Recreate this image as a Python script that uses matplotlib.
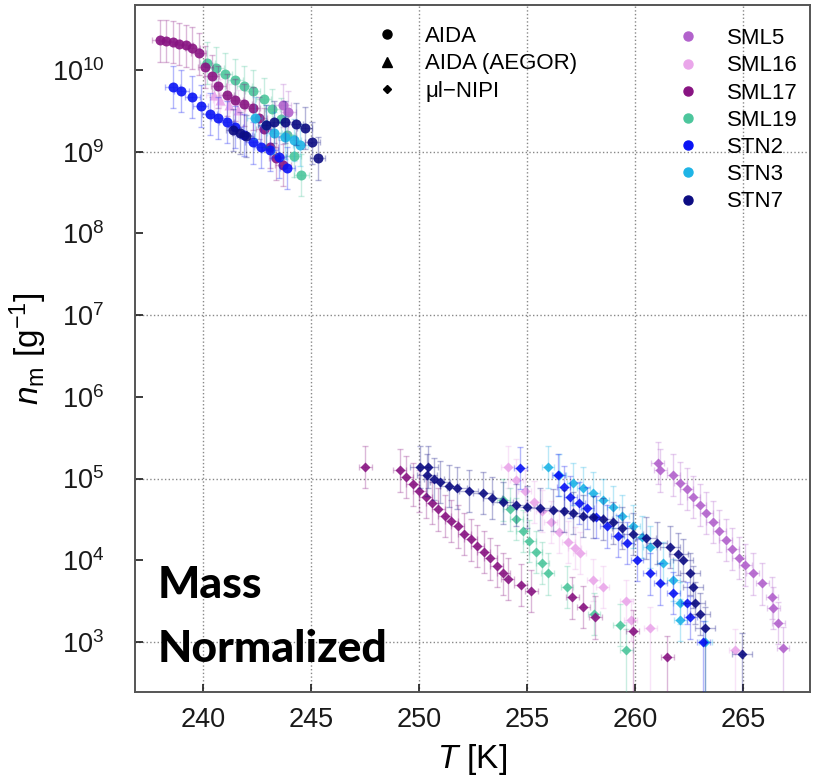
import numpy as np
import matplotlib.pyplot as plt
from matplotlib.lines import Line2D
from matplotlib.ticker import FixedLocator, NullLocator, LogFormatterMathtext

plt.rcParams['font.family'] = ['Liberation Sans', 'DejaVu Sans']
plt.rcParams['mathtext.fontset'] = 'custom'
plt.rcParams['mathtext.rm'] = 'Liberation Sans'
plt.rcParams['mathtext.it'] = 'Liberation Sans:italic'
plt.rcParams['mathtext.bf'] = 'Liberation Sans:bold'

# sample names and colours
samples = ['SML5', 'SML16', 'SML17', 'SML19', 'STN2', 'STN3', 'STN7']
sample_colors = ['#b262cc', '#eaa6ea', '#881482', '#4cc69c', '#0a14f5', '#1eb4e6', '#0c0c82']

# AIDA (circles): temperature [K], n_m [1/g]
sml5_aida_T = [243.7, 243.95]
sml5_aida_n = [3.7e9, 3.1e9]
sml17_aida_T = [238.0, 238.3, 238.6, 238.9, 239.2, 239.5, 239.8, 240.1, 240.4, 240.7,
                241.1, 241.5, 241.9, 242.3, 242.6, 242.8, 243.1, 243.4, 243.7]
sml17_aida_n = [2.3e10, 2.25e10, 2.2e10, 2.1e10, 2.0e10, 1.85e10, 1.6e10, 1.1e10, 8.5e9, 6.3e9,
                5.0e9, 4.3e9, 3.8e9, 3.4e9, 2.6e9, 1.9e9, 1.15e9, 8.3e8, 6.9e8]
sml19_aida_T = [240.2, 240.6, 241.0, 241.5, 241.9, 242.3, 242.8, 243.2, 243.6, 243.9, 244.2, 244.55]
sml19_aida_n = [1.23e10, 1.05e10, 8.9e9, 7.6e9, 6.3e9, 5.5e9, 4.4e9, 3.3e9, 2.5e9, 1.6e9, 8.9e8, 5.2e8]
stn2_aida_T = [238.6, 239.0, 239.5, 239.9, 240.3, 240.7, 241.1, 241.5, 241.9, 242.3, 242.7, 243.1, 243.5, 243.9]
stn2_aida_n = [6.2e9, 5.5e9, 4.7e9, 3.6e9, 2.9e9, 2.6e9, 2.3e9, 2.0e9, 1.6e9, 1.3e9, 1.15e9, 1.05e9, 8.7e8, 6.3e8]
stn3_aida_T = [242.4, 242.9, 243.3, 243.8, 244.2, 244.5]
stn3_aida_n = [2.6e9, 2.1e9, 1.7e9, 1.5e9, 1.4e9, 1.2e9]
stn7_aida_T = [241.4, 241.7, 242.0, 242.9, 243.3, 243.8, 244.3, 244.7, 245.05, 245.3]
stn7_aida_n = [1.86e9, 1.7e9, 1.58e9, 2.1e9, 2.3e9, 2.3e9, 2.2e9, 1.95e9, 1.3e9, 8.3e8]

# AIDA (AEGOR) (triangles)
sml16_aegor_T = [240.5, 240.8, 241.2, 241.6]
sml16_aegor_n = [4.9e9, 4.3e9, 3.7e9, 3.2e9]

# ul-NIPI (diamonds)
sml5_nipi_T = [261.06, 261.16, 261.76, 262.1, 262.4, 262.7, 263.0, 263.3, 263.6, 263.9, 264.2,
               264.5, 264.8, 265.1, 265.46, 265.88, 266.34, 266.39, 266.62, 266.85]
sml5_nipi_n = [1.55e5, 1.26e5, 1.1e5, 8.9e4, 7.4e4, 6.0e4, 4.8e4, 3.8e4, 2.95e4, 2.3e4, 1.78e4,
               1.38e4, 1.07e4, 8.7e3, 6.9e3, 5.2e3, 3.5e3, 2.6e3, 1.7e3, 8.5e2]
sml16_nipi_T = [254.1, 254.5, 254.9, 255.3, 255.7, 256.1, 256.5, 256.9, 257.2, 257.45, 258.06,
                258.5, 259.6, 259.8, 260.7, 264.65]
sml16_nipi_n = [1.38e5, 9.5e4, 7.1e4, 5.2e4, 4.0e4, 2.95e4, 2.2e4, 1.66e4, 1.41e4, 1.23e4, 5.8e3,
                4.7e3, 3.2e3, 1.86e3, 1.48e3, 7.9e2]
sml17_nipi_T = [247.5, 249.1, 249.4, 249.7, 250.0, 250.3, 250.6, 250.9, 251.2, 251.5, 251.8, 252.1,
                252.4, 252.7, 253.0, 253.3, 253.6, 253.9, 254.1, 254.7, 255.2, 257.1, 257.6, 258.15,
                259.9, 261.5]
sml17_nipi_n = [1.38e5, 1.26e5, 1.05e5, 8.5e4, 7.1e4, 5.9e4, 5.0e4, 4.2e4, 3.5e4, 3.0e4, 2.6e4, 2.1e4,
                1.8e4, 1.5e4, 1.26e4, 1.05e4, 8.5e3, 6.9e3, 5.9e3, 5.0e3, 4.2e3, 3.5e3, 2.7e3, 2.0e3,
                1.35e3, 6.6e2]
sml19_nipi_T = [253.9, 254.2, 254.5, 254.8, 255.1, 255.4, 255.7, 255.95, 256.85, 258.1, 259.3, 259.6]
sml19_nipi_n = [5.5e4, 4.2e4, 3.2e4, 2.3e4, 1.74e4, 1.26e4, 9.3e3, 6.9e3, 4.7e3, 2.2e3, 1.6e3, 7.9e2]
stn2_nipi_T = [254.68, 256.44, 256.7, 257.0, 257.4, 257.78, 258.2, 258.7, 259.2, 259.63, 260.09,
               260.69, 261.16, 261.76, 262.41, 262.55, 263.15]
stn2_nipi_n = [1.35e5, 1.1e5, 7.9e4, 5.9e4, 5.0e4, 4.4e4, 3.4e4, 2.6e4, 2.0e4, 1.62e4, 1.0e4,
               6.9e3, 5.2e3, 4.0e3, 3.0e3, 2.0e3, 1.0e3]
stn3_nipi_T = [255.97, 256.5, 257.13, 257.6, 258.06, 258.5, 258.98, 259.4, 259.91, 260.3, 260.69,
               261.3, 261.76, 262.08, 262.1, 263.24]
stn3_nipi_n = [1.38e5, 1.1e5, 8.7e4, 7.6e4, 6.6e4, 5.5e4, 4.5e4, 3.5e4, 2.6e4, 1.95e4, 1.45e4,
               9.3e3, 5.8e3, 3.0e3, 1.86e3, 1.0e3]
stn7_nipi_T = [250.05, 250.42, 250.37, 250.7, 250.97, 251.4, 251.76, 252.3, 252.96, 253.4, 253.89,
               254.5, 255.0, 255.6, 256.2, 256.7, 257.13, 257.6, 258.06, 258.5, 258.98, 259.4,
               259.91, 260.5, 261.02, 261.62, 262.0, 262.22, 262.55, 262.69, 262.78, 263.01,
               263.24, 264.95]
stn7_nipi_n = [1.38e5, 1.38e5, 1.1e5, 1.0e5, 9.1e4, 8.1e4, 7.6e4, 7.1e4, 6.6e4, 5.8e4, 5.1e4,
               4.8e4, 4.5e4, 4.3e4, 4.1e4, 4.0e4, 3.8e4, 3.5e4, 3.4e4, 3.2e4, 2.9e4, 2.5e4,
               2.1e4, 1.86e4, 1.62e4, 1.45e4, 1.2e4, 1.0e4, 6.9e3, 4.7e3, 3.0e3, 2.2e3,
               1.48e3, 7.2e2]

x_ticks = [240, 245, 250, 255, 260, 265]
y_ticks = [1e3, 1e4, 1e5, 1e6, 1e7, 1e8, 1e9, 1e10]
y_grid = [1e3, 1e5, 1e7, 1e9]

color = dict(zip(samples, sample_colors))

fig = plt.figure(figsize=(8.13, 7.83), dpi=100)
ax = fig.add_axes([135 / 813, 1 - 692 / 783, 675 / 813, 687 / 783])


def draw(T, n, name, marker, ms, xerr, z):
    T = np.asarray(T)
    n = np.asarray(n)
    lo = np.where(n < 1.6e3, 0.98, 0.45) * n
    hi = 0.8 * n
    ax.errorbar(T, n, xerr=xerr, yerr=[lo, hi], fmt='none', ecolor=color[name],
                alpha=0.3, elinewidth=1.0, capsize=2.5, zorder=z)
    ax.plot(T, n, ls='none', marker=marker, ms=ms, color=color[name], mec='none',
            alpha=0.9, zorder=z + 0.5)


# top cluster
draw(sml19_aida_T, sml19_aida_n, 'SML19', 'o', 7.2, 0.35, 2)
draw(sml17_aida_T, sml17_aida_n, 'SML17', 'o', 7.2, 0.35, 3)
draw(sml16_aegor_T, sml16_aegor_n, 'SML16', '^', 7.2, 0.35, 3)
draw(stn2_aida_T, stn2_aida_n, 'STN2', 'o', 7.2, 0.35, 4)
draw(sml5_aida_T, sml5_aida_n, 'SML5', 'o', 7.2, 0.35, 4)
draw(stn3_aida_T, stn3_aida_n, 'STN3', 'o', 7.2, 0.35, 5)
draw(stn7_aida_T, stn7_aida_n, 'STN7', 'o', 7.2, 0.35, 6)

# bottom cluster
draw(sml5_nipi_T, sml5_nipi_n, 'SML5', 'D', 5.2, 0.3, 2)
draw(sml16_nipi_T, sml16_nipi_n, 'SML16', 'D', 5.2, 0.3, 2)
draw(sml19_nipi_T, sml19_nipi_n, 'SML19', 'D', 5.2, 0.3, 3)
draw(sml17_nipi_T, sml17_nipi_n, 'SML17', 'D', 5.2, 0.3, 3)
draw(stn3_nipi_T, stn3_nipi_n, 'STN3', 'D', 5.2, 0.3, 4)
draw(stn2_nipi_T, stn2_nipi_n, 'STN2', 'D', 5.2, 0.3, 5)
draw(stn7_nipi_T, stn7_nipi_n, 'STN7', 'D', 5.2, 0.45, 6)

ax.set_yscale('log')
ax.set_xlim(236.85, 268.1)
ax.set_ylim(10 ** 2.387, 10 ** 10.796)
ax.set_xticks(x_ticks)
ax.yaxis.set_major_locator(FixedLocator(y_ticks))
ax.yaxis.set_minor_locator(NullLocator())
ax.yaxis.set_major_formatter(LogFormatterMathtext())
ax.tick_params(direction='in', length=6, width=1.2, labelsize=19.5, colors='#1a1a1a')
ax.tick_params(axis='y', pad=22)
ax.tick_params(axis='x', pad=11)
for s in ax.spines.values():
    s.set_color('#555555')
    s.set_linewidth(1.4)

# dotted grid: every x tick, every other decade in y
ax.grid(axis='x', ls=':', color='#888888', lw=1.0)
for g in y_grid:
    ax.axhline(g, ls=':', color='#888888', lw=1.0, zorder=0.5)
ax.set_axisbelow(True)

ax.set_xlabel(r'$T$ [K]', fontsize=24, labelpad=6)
ax.set_ylabel(r'$n_{\mathrm{m}}$ [g$^{-1}$]', fontsize=24, labelpad=2)

# legends
fs = 16
inst_handles = [Line2D([], [], ls='none', marker='o', color='k', ms=6.5),
                Line2D([], [], ls='none', marker='^', color='k', ms=6.5),
                Line2D([], [], ls='none', marker='D', color='k', ms=4.0)]
fig.legend(inst_handles, ['AIDA', 'AIDA (AEGOR)', 'μl−NIPI'], loc='upper left',
           bbox_to_anchor=(365 / 813, 1 - 15 / 783), frameon=False, fontsize=fs,
           borderpad=0, handlelength=1.0, handletextpad=1.21, labelspacing=0.28)
samp_handles = [Line2D([], [], ls='none', marker='o', color=c, ms=6.5) for c in sample_colors]
fig.legend(samp_handles, samples, loc='upper left',
           bbox_to_anchor=(666 / 813, 1 - 17 / 783), frameon=False, fontsize=fs,
           borderpad=0, handlelength=1.0, handletextpad=1.26, labelspacing=0.28)

fig.text(158 / 813, 1 - 598 / 783, 'Mass', fontsize=32, fontweight='black',
         family='Lato', va='baseline', ha='left')
fig.text(158 / 813, 1 - 662 / 783, 'Normalized', fontsize=32, fontweight='black',
         family='Lato', va='baseline', ha='left')

fig.savefig('out.png', dpi=100)
